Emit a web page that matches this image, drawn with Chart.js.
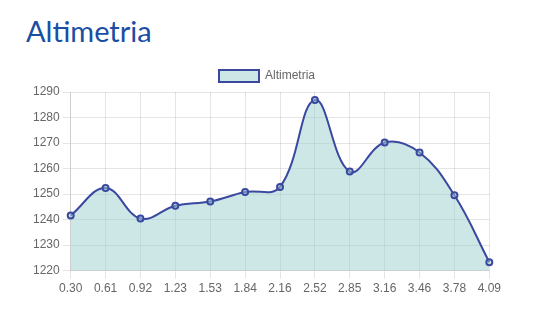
<!DOCTYPE html>
<html>
<head>
<meta charset="utf-8">
<script src="https://cdn.jsdelivr.net/npm/chart.js@4/dist/chart.umd.min.js"></script>
<style>
  body { margin: 0; background: #fff; width: 540px; height: 322px; overflow: hidden; }
  #title { position: absolute; left: 26px; top: 13px; margin: 0; font-family: "Lato", sans-serif; font-weight: 400; font-size: 29px; color: #1a4ea3; letter-spacing: 0; }
  #wrap { position: absolute; left: 30px; top: 58px; width: 474px; height: 241px; }
</style>
</head>
<body>
<h1 id="title">Altimetria</h1>
<div id="wrap"><canvas id="chart"></canvas></div>
<script>
let distances = ['0.30', '0.61', '0.92', '1.23', '1.53', '1.84', '2.16', '2.52', '2.85', '3.16', '3.46', '3.78', '4.09'];
let altitudes = [1241.6, 1252.4, 1240.4, 1245.4, 1247.1, 1250.8, 1252.8, 1286.9, 1258.8, 1270.2, 1266.3, 1249.5, 1223.3];
let seriesName = 'Altimetria';

let tickFont = { family: 'Arial, "Liberation Sans", sans-serif', size: 12 };

let ctx = document.getElementById('chart').getContext('2d');
new Chart(ctx, {
    type: 'line',
    data: {
        labels: distances,
        datasets: [{
            label: seriesName,
            data: altitudes,
            fill: true,
            backgroundColor: 'rgba(155, 205, 205, 0.5)',
            borderColor: '#3b48a0',
            borderWidth: 2,
            tension: 0.4,
            pointRadius: 3,
            pointBorderWidth: 2,
            pointBackgroundColor: 'rgba(155, 205, 205, 0.5)',
            pointBorderColor: '#3b48a0'
        }]
    },
    options: {
        responsive: true,
        maintainAspectRatio: false,
        animation: false,
        plugins: {
            legend: {
                labels: {
                    boxWidth: 40,
                    boxHeight: 12,
                    padding: 12,
                    color: '#666',
                    font: tickFont
                }
            }
        },
        scales: {
            x: {
                grid: { color: 'rgba(0,0,0,0.1)' },
                ticks: { color: '#666', font: tickFont, maxRotation: 0 }
            },
            y: {
                min: 1220,
                max: 1290,
                grid: { color: 'rgba(0,0,0,0.1)' },
                ticks: {
                    stepSize: 10,
                    color: '#666',
                    font: tickFont,
                    callback: function (value) { return String(value); }
                }
            }
        }
    }
});
</script>
</body>
</html>
